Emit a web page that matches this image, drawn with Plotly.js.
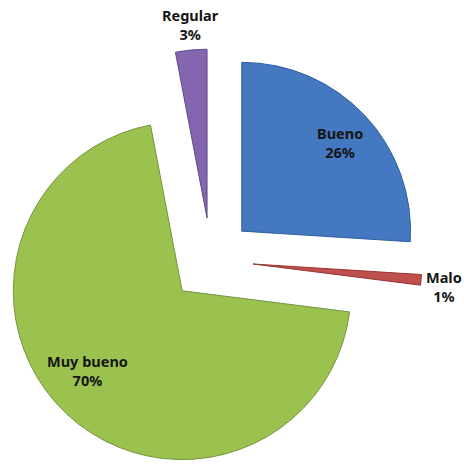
<!DOCTYPE html>
<html>
<head>
<meta charset="utf-8">
<script src="https://cdn.plot.ly/plotly-3.0.1.min.js"></script>
<style>
html,body{margin:0;padding:0;overflow:hidden;background:#fff;}
#chart{width:464px;height:476px;}
</style>
</head>
<body>
<div id="chart"></div>
<script>
var categories = ["Bueno", "Malo", "Muy bueno", "Regular"];
var percents = [26, 1, 70, 3];
var sliceColors = ["#4478c0", "#c0504d", "#9bc24f", "#8466b0"];
var edgeColors = ["#2f5f9e", "#943634", "#76923c", "#5f4a87"];
var pulls = [0.25, 0.25, 0.25, 0.25];

var W = 464, H = 476;
// label block centres in pixels (layout only)
var labelPos = [[340, 142], [444, 286], [87, 370], [190, 24]];

var font = {family: "Noto Sans, Liberation Sans, sans-serif", size: 14.5, color: "#151515", weight: 700};

var trace = {
  type: "pie",
  labels: categories,
  values: percents,
  sort: false,
  direction: "clockwise",
  rotation: 0,
  pull: pulls,
  marker: {colors: sliceColors, line: {color: edgeColors, width: 1}},
  textinfo: "none",
  automargin: false,
  hoverinfo: "label+percent",
  domain: {x: [0, 0.9095], y: [0.0073, 0.9002]}
};

var annotations = categories.map(function (c, i) {
  return {
    xref: "paper", yref: "paper",
    x: labelPos[i][0] / W, y: 1 - labelPos[i][1] / H,
    xanchor: "center", yanchor: "middle",
    showarrow: false,
    align: "center",
    text: c + "<br>" + percents[i] + "%",
    font: font
  };
});

var layout = {
  width: W,
  height: H,
  margin: {l: 0, r: 0, t: 0, b: 0},
  showlegend: false,
  paper_bgcolor: "#ffffff",
  plot_bgcolor: "#ffffff",
  annotations: annotations
};

Plotly.newPlot("chart", [trace], layout, {displayModeBar: false, staticPlot: true});
</script>
</body>
</html>
